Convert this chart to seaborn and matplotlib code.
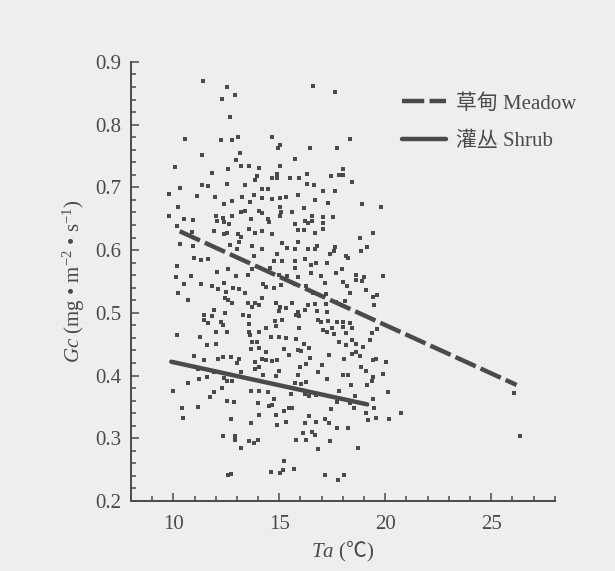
import pandas as pd
import seaborn as sns
import matplotlib.pyplot as plt
from matplotlib.ticker import MultipleLocator

# points (Ta in degC, Gc in mg m-2 s-1)
ta = [11.41, 12.53, 12.29, 12.89, 12.68, 10.57, 12.26, 12.76, 13.05, 14.64, 11.33, 14.95, 15.02, 13.14, 12.95,
      10.10, 12.60, 13.21, 13.59, 14.06, 15.05, 11.84, 13.95, 13.84, 14.64, 14.91, 14.91, 15.49, 11.37, 11.65,
      12.54, 13.40, 10.30, 14.16, 14.45, 9.78, 11.10, 11.97, 13.24, 13.80, 14.19, 14.67, 15.02, 15.30, 12.76,
      12.41, 13.64, 10.22, 15.03, 13.19, 13.40, 14.03, 14.19, 9.78, 10.51, 10.94, 12.02, 12.32, 12.76, 12.05,
      12.41, 12.64, 13.68, 14.45, 14.51, 15.02, 15.08, 10.19, 11.94, 12.41, 13.05, 13.21, 13.56, 13.84, 14.19,
      14.67, 10.89, 12.53, 10.30, 10.94, 12.68, 13.08, 13.00, 13.72, 14.16, 15.14, 15.38, 14.91, 14.75, 15.11,
      10.99, 11.30, 11.65, 13.81, 10.19, 12.05, 12.60, 10.83, 10.14, 12.95, 13.53, 14.54, 14.99, 15.38, 13.72,
      # upper right block
      16.57, 17.62, 18.32, 16.45, 17.72, 15.75, 18.03, 16.29, 17.45, 17.81, 18.03, 15.91, 16.29, 16.64, 18.45,
      17.08, 17.62, 15.87, 16.67, 17.30, 18.92, 19.81, 16.16, 15.62, 16.54, 17.08, 17.52, 15.72, 16.19, 16.35,
      16.54, 17.05, 17.05, 15.87, 16.16, 16.67, 19.43, 18.79, 15.87, 15.75, 16.35, 16.67, 16.79, 17.62, 17.59,
      19.14, 18.86, 17.40, 18.13, 18.26, 16.19, 15.75, 16.51, 16.73, 17.24, 15.72, 17.97, 16.48, 16.95, 17.68,
      18.60, 18.98, 19.91, 15.87,
      # lower left block
      10.51, 11.30, 11.81, 12.38, 12.83, 13.08, 13.40, 14.22, 14.38, 14.76, 15.08, 10.22, 12.13, 12.48, 12.45,
      12.60, 12.76, 10.67, 13.53, 13.84, 14.03, 13.72, 14.19, 14.83, 15.02, 15.30, 15.00, 11.94, 12.45, 11.46,
      11.46, 11.81, 13.27, 13.56, 12.26, 11.65, 12.32, 13.59, 14.80, 15.14, 14.83, 14.38, 14.03, 13.56, 12.03,
      12.54, 10.19, 11.27, 13.64, 14.60, 15.00, 15.33, 11.59, 12.03, 13.72, 13.97, 13.65, 14.03, 14.38, 15.24,
      10.99, 11.46, 12.10, 12.32, 12.70, 13.08, 14.19, 14.38, 14.67, 14.89, 15.46, 12.99, 13.84, 14.03, 13.87,
      11.18, 11.91, 13.21, 15.00, 14.83, 14.22, 11.59, 11.21, 12.41, 12.54, 12.79, 10.70, 10.00, 12.29, 11.91,
      11.72, 13.65, 14.03, 14.45, 14.73, 15.56, 12.54, 12.86, 14.00, 14.51, 14.67, 15.21, 15.46, 10.41, 11.14,
      10.45, 12.70, 14.03, 14.83, 15.30, 13.65, 14.89, 12.35, 12.89, 12.89, 13.59, 13.81, 14.00, 13.18, 15.24,
      14.60, 15.02, 15.18, 12.70, 12.60,
      # lower right block
      15.75, 16.25, 17.18, 18.00, 18.19, 18.64, 18.92, 19.08, 16.57, 17.21, 18.32, 19.43, 19.59, 15.62, 16.35,
      16.67, 17.21, 17.68, 18.10, 19.49, 15.87, 16.19, 16.79, 17.27, 15.78, 15.94, 16.83, 17.30, 17.71, 18.00,
      18.35, 16.95, 15.91, 17.08, 17.49, 18.00, 18.41, 19.62, 17.24, 17.56, 18.16, 19.37, 15.81, 18.45, 19.27,
      17.81, 18.64, 16.16, 16.38, 18.95, 15.87, 16.03, 18.16, 17.33, 18.41, 18.60, 18.83, 18.06, 19.40, 19.56,
      20.03, 16.45, 16.25, 16.00, 17.02, 16.83, 18.86, 19.08, 18.00, 18.22, 19.43, 19.91, 15.87, 17.27, 15.75,
      16.03, 16.25, 18.38, 19.14, 19.37, 16.19, 16.41, 16.73, 17.84, 18.57, 20.13, 15.62, 17.71, 18.32, 19.43,
      19.49, 17.43, 18.51, 19.08, 16.38, 17.14, 17.33, 16.19, 16.73, 19.21, 19.56, 20.19, 20.73, 17.71, 18.22,
      16.13, 16.54, 16.67, 15.78, 16.25, 17.40, 18.70, 16.83, 15.68, 17.14, 17.78, 18.06,
      # far right
      26.10, 26.34]

gc = [0.870, 0.860, 0.841, 0.847, 0.812, 0.777, 0.776, 0.775, 0.780, 0.781, 0.752, 0.762, 0.767, 0.754, 0.744,
      0.733, 0.729, 0.734, 0.734, 0.731, 0.734, 0.723, 0.718, 0.712, 0.715, 0.715, 0.722, 0.715, 0.704, 0.702,
      0.705, 0.703, 0.699, 0.698, 0.698, 0.690, 0.686, 0.685, 0.685, 0.688, 0.683, 0.681, 0.683, 0.685, 0.679,
      0.674, 0.677, 0.669, 0.668, 0.660, 0.663, 0.663, 0.659, 0.654, 0.649, 0.648, 0.654, 0.651, 0.654, 0.646,
      0.644, 0.642, 0.649, 0.649, 0.644, 0.654, 0.660, 0.638, 0.630, 0.626, 0.626, 0.621, 0.634, 0.628, 0.631,
      0.626, 0.629, 0.628, 0.609, 0.607, 0.608, 0.613, 0.601, 0.607, 0.601, 0.612, 0.604, 0.593, 0.583, 0.583,
      0.588, 0.584, 0.585, 0.590, 0.575, 0.565, 0.570, 0.558, 0.557, 0.559, 0.560, 0.572, 0.560, 0.559, 0.570,
      0.861, 0.852, 0.777, 0.762, 0.762, 0.745, 0.729, 0.722, 0.718, 0.719, 0.719, 0.715, 0.706, 0.704, 0.708,
      0.694, 0.694, 0.688, 0.680, 0.675, 0.674, 0.669, 0.667, 0.661, 0.654, 0.653, 0.652, 0.642, 0.646, 0.643,
      0.647, 0.643, 0.634, 0.632, 0.632, 0.627, 0.628, 0.619, 0.613, 0.602, 0.601, 0.602, 0.607, 0.605, 0.598,
      0.605, 0.598, 0.593, 0.591, 0.588, 0.586, 0.583, 0.576, 0.580, 0.580, 0.571, 0.570, 0.563, 0.558, 0.563,
      0.561, 0.557, 0.558, 0.557,
      0.546, 0.546, 0.543, 0.548, 0.540, 0.538, 0.532, 0.546, 0.541, 0.539, 0.544, 0.532, 0.538, 0.533, 0.524,
      0.520, 0.516, 0.520, 0.516, 0.516, 0.512, 0.510, 0.524, 0.515, 0.510, 0.508, 0.503, 0.505, 0.499, 0.496,
      0.489, 0.495, 0.497, 0.495, 0.485, 0.483, 0.480, 0.482, 0.487, 0.489, 0.479, 0.475, 0.469, 0.470, 0.469,
      0.470, 0.464, 0.461, 0.465, 0.462, 0.461, 0.460, 0.448, 0.451, 0.453, 0.453, 0.443, 0.444, 0.438, 0.442,
      0.431, 0.425, 0.426, 0.429, 0.429, 0.427, 0.427, 0.425, 0.423, 0.424, 0.433, 0.420, 0.422, 0.414, 0.411,
      0.411, 0.406, 0.406, 0.407, 0.400, 0.401, 0.398, 0.395, 0.396, 0.392, 0.392, 0.388, 0.375, 0.380, 0.373,
      0.366, 0.376, 0.376, 0.373, 0.363, 0.370, 0.360, 0.358, 0.357, 0.351, 0.353, 0.344, 0.349, 0.349, 0.350,
      0.333, 0.331, 0.337, 0.337, 0.326, 0.324, 0.321, 0.303, 0.303, 0.297, 0.295, 0.293, 0.297, 0.284, 0.263,
      0.246, 0.244, 0.249, 0.243, 0.241,
      0.546, 0.543, 0.548, 0.549, 0.542, 0.552, 0.551, 0.536, 0.531, 0.530, 0.531, 0.525, 0.529, 0.515, 0.512,
      0.514, 0.514, 0.517, 0.519, 0.513, 0.501, 0.505, 0.503, 0.501, 0.496, 0.495, 0.488, 0.487, 0.485, 0.486,
      0.484, 0.485, 0.476, 0.473, 0.475, 0.477, 0.475, 0.474, 0.469, 0.466, 0.468, 0.468, 0.459, 0.457, 0.456,
      0.453, 0.451, 0.450, 0.444, 0.446, 0.441, 0.439, 0.448, 0.433, 0.434, 0.437, 0.431, 0.427, 0.425, 0.426,
      0.422, 0.428, 0.419, 0.414, 0.417, 0.406, 0.413, 0.408, 0.401, 0.401, 0.398, 0.403, 0.401, 0.394, 0.388,
      0.387, 0.389, 0.385, 0.385, 0.391, 0.371, 0.368, 0.369, 0.375, 0.368, 0.373, 0.348, 0.358, 0.356, 0.363,
      0.349, 0.347, 0.348, 0.341, 0.335, 0.330, 0.325, 0.324, 0.326, 0.329, 0.333, 0.331, 0.340, 0.316, 0.316,
      0.309, 0.310, 0.306, 0.298, 0.298, 0.295, 0.285, 0.283, 0.251, 0.242, 0.234, 0.241,
      0.372, 0.304]

# fitted lines (end points)
meadow_ta = [10.3, 26.2]
meadow_gc = [0.630, 0.385]
shrub_ta = [9.9, 19.15]
shrub_gc = [0.422, 0.354]

sns.set_theme(style="ticks")
plt.rcParams['font.family'] = ['Liberation Serif', 'Noto Sans CJK SC', 'DejaVu Sans']
plt.rcParams['mathtext.fontset'] = 'custom'
plt.rcParams['mathtext.rm'] = 'Liberation Serif'
plt.rcParams['mathtext.it'] = 'Liberation Serif:italic'
plt.rcParams['mathtext.sf'] = 'Noto Sans CJK SC'  # only used for the degree-celsius sign

bg = '#eeeeec'
ink = '#4a4a4a'

fig = plt.figure(figsize=(6.15, 5.71), dpi=100, facecolor=bg)
ax = fig.add_axes([0.213, 0.1226, 0.689, 0.769])
ax.set_facecolor(bg)

df = pd.DataFrame({"Ta": ta, "Gc": gc})
sns.scatterplot(data=df, x="Ta", y="Gc", marker="s", s=7, color=ink, linewidth=0, ax=ax, legend=False)

sns.lineplot(x=meadow_ta, y=meadow_gc, color=ink, lw=3.2, linestyle=(0, (5, 1.2)), ax=ax, label="草甸 Meadow")
sns.lineplot(x=shrub_ta, y=shrub_gc, color=ink, lw=3.2, ax=ax, label="灌丛 Shrub")

ax.set_xlim(8, 28)
ax.set_ylim(0.2, 0.9)
ax.xaxis.set_major_locator(MultipleLocator(5))
ax.xaxis.set_minor_locator(MultipleLocator(1))
ax.yaxis.set_major_locator(MultipleLocator(0.1))
ax.yaxis.set_minor_locator(MultipleLocator(0.02))
ax.tick_params(which="both", direction="in", color=ink, width=1.1, labelsize=15, labelcolor=ink)
ax.tick_params(which="major", length=6)
ax.tick_params(which="minor", length=3.5)
ax.tick_params(axis="x", pad=10)
ax.tick_params(axis="y", pad=7)

sns.despine(ax=ax)
for s in ["left", "bottom"]:
    ax.spines[s].set_color(ink)
    ax.spines[s].set_linewidth(1.4)

ax.set_xlabel(r"$Ta$ ($\mathsf{℃}$)", fontsize=15, color=ink, labelpad=4)
ax.set_ylabel("$Gc$ (mg • m$^{-2}$ • s$^{-1}$)", fontsize=15, color=ink, labelpad=6)

leg = ax.legend(loc="upper left", bbox_to_anchor=(0.64, 0.927), frameon=False, fontsize=15,
                borderpad=0, borderaxespad=0, handlelength=2.1, handletextpad=0.5, labelspacing=0.85)
for t in leg.get_texts():
    t.set_color(ink)

plt.savefig("out.png", dpi=100, facecolor=bg)
